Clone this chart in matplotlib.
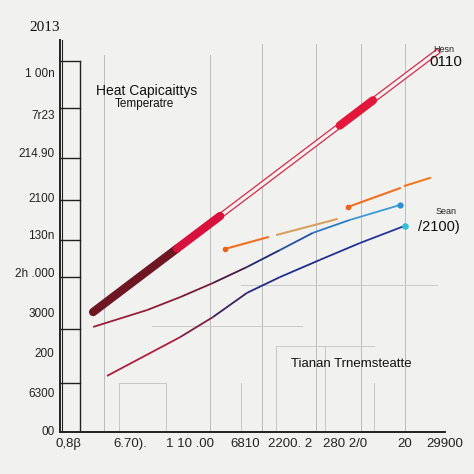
import numpy as np
import matplotlib
matplotlib.use('Agg')
import matplotlib.pyplot as plt
from matplotlib.collections import LineCollection

# data
heat_x = [8.6, 30.4, 41.6, 72.7, 81.3, 97.9]
heat_y = [30.6, 46.8, 55.1, 78.2, 84.6, 96.9]
heat_colors = ['#6e1622', '#d8123c', 'hollow', '#e3173b', 'hollow']

upper_x = [8.6, 22.6, 31.2, 39.7, 48.6, 57.1, 65.7, 75.3, 88.3]
upper_y = [26.8, 31.1, 34.4, 38.0, 42.1, 46.4, 50.8, 54.1, 57.9]
upper_colors = ['#9a1c36', '#8e1b36', '#7a1a38', '#4a1a40', '#1f2a6e', '#2350a8', '#2d78c4', '#3a9ad6']

lower_x = [12.2, 31.2, 39.7, 48.6, 57.1, 67.5, 77.9, 89.6]
lower_y = [14.3, 24.2, 29.3, 35.5, 39.5, 43.9, 48.2, 52.6]
lower_colors = ['#b01e3c', '#7e1e46', '#3a2060', '#22288a', '#1f2c8e', '#22308f', '#24349a']

orange_x = [[42.9, 54.0], [56.4, 71.9], [74.8, 88.3], [89.6, 96.1]]
orange_y = [[46.7, 49.7], [50.3, 54.3], [57.4, 62.2], [62.8, 64.8]]
orange_colors = ['#f07020', '#d8a060', '#f07020', '#f07a22']

ytick_pos = [91.8, 80.9, 71.2, 59.9, 50.5, 40.6, 30.4, 20.4, 10.2, 0.5]
ytick_labels = ['1 00n', '7r23', '214.90', '2100', '130n', '2h .000', '3000', '200', '6300', '00']
box_lines = [94.6, 82.7, 69.9, 59.2, 49.0, 39.5, 26.3, 12.5]

xtick_pos = [2.1, 18.2, 33.8, 48.1, 59.7, 74.0, 89.6, 100.0]
xtick_labels = ['0,8β', '6.70).', '1 10 .00', '6810', '2200. 2', '280 2/0', '20', '29900']

grid_x = [11.4, 39.0, 52.5, 66.5, 78.2, 89.6]
grid_top = [96.2, 96.2, 99.0, 99.0, 99.0, 99.0]
short_x = [15.3, 27.5, 47.0, 56.1, 68.8, 81.6]
short_top = [12.5, 12.5, 12.5, 22.0, 22.0, 12.5]

plt.rcParams['font.family'] = ['Liberation Sans', 'DejaVu Sans']
fig = plt.figure(figsize=(4.74, 4.74), dpi=100)
fig.patch.set_facecolor('#f1f1ef')
ax = fig.add_axes([0.1266, 0.0886, 0.812, 0.827])
ax.set_facecolor('#f1f1ef')
ax.set_xlim(0, 100)
ax.set_ylim(0, 100)

# grid
for gx, gt in zip(grid_x, grid_top):
    ax.plot([gx, gx], [0, gt], color='#bcbcbc', lw=0.7, zorder=1)
for sx, st in zip(short_x, short_top):
    ax.plot([sx, sx], [0, st], color='#c6c6c6', lw=0.7, zorder=1)
ax.plot([15.3, 27.5], [12.5, 12.5], color='#c6c6c6', lw=0.7, zorder=1)
ax.plot([24.0, 63.0], [27.0, 27.0], color='#cacaca', lw=0.7, zorder=1)
ax.plot([47.0, 98.0], [37.5, 37.5], color='#cacaca', lw=0.7, zorder=1)
ax.plot([56.1, 81.6], [22.0, 22.0], color='#cacaca', lw=0.7, zorder=1)

# left box with tick bars
ax.plot([5.2, 5.2], [0, 94.6], color='#222222', lw=1.0, zorder=2)
for by in box_lines:
    ax.plot([0, 5.2], [by, by], color='#222222', lw=1.0, zorder=2)
ax.plot([0.6, 0.6], [0, 100], color='#222222', lw=0.8, zorder=2, clip_on=False)

# thick heat line
for i in range(len(heat_x) - 1):
    xs = heat_x[i:i + 2]
    ys = heat_y[i:i + 2]
    c = heat_colors[i]
    if c == 'hollow':
        ax.plot(xs, ys, color='#d82a48', lw=4.2, zorder=3)
        ax.plot(xs, ys, color='#f6f0f0', lw=2.4, zorder=3)
    else:
        ax.plot(xs, ys, color=c, lw=6, solid_capstyle='round', zorder=4)

# thin gradient lines
for xs, ys, cols in [(upper_x, upper_y, upper_colors), (lower_x, lower_y, lower_colors)]:
    pts = np.column_stack([xs, ys])
    segs = np.stack([pts[:-1], pts[1:]], axis=1)
    ax.add_collection(LineCollection(segs, colors=cols, linewidths=1.3, zorder=3))
ax.scatter([upper_x[-1]], [upper_y[-1]], color='#2a90d8', s=12, zorder=5)
ax.scatter([lower_x[-1]], [lower_y[-1]], color='#30c0d8', s=14, zorder=5)

# orange dashed pieces
for xs, ys, c in zip(orange_x, orange_y, orange_colors):
    ax.plot(xs, ys, color=c, lw=1.5, zorder=3)
ax.scatter([orange_x[0][0], orange_x[2][0]], [orange_y[0][0], orange_y[2][0]],
           color='#f06018', s=9, zorder=5)

# texts
ax.text(22.6, 87.0, 'Heat Capicaittys', fontsize=10, ha='center', va='center', color='#111111')
ax.text(22.0, 83.6, 'Temperatre', fontsize=8.5, ha='center', va='center', color='#111111')
ax.text(75.8, 17.3, 'Tianan Trnemsteatte', fontsize=9.5, ha='center', va='center', color='#111111')
ax.text(99.7, 97.6, 'Hesn', fontsize=6.5, ha='center', va='center', color='#222222', clip_on=False)
ax.text(100.3, 94.3, '0110', fontsize=11, ha='center', va='center', color='#111111', clip_on=False)
ax.text(100.3, 56.2, 'Sean', fontsize=6.5, ha='center', va='center', color='#222222', clip_on=False)
ax.text(98.5, 52.3, '/2100)', fontsize=10.5, ha='center', va='center', color='#111111', clip_on=False)
ax.text(-3.9, 103.2, '2013', fontsize=11, ha='center', va='center', family='Liberation Serif',
        color='#111111', clip_on=False)

ax.set_yticks(ytick_pos)
ax.set_yticklabels(ytick_labels, fontsize=8.5, color='#222222')
ax.set_xticks(xtick_pos)
ax.set_xticklabels(xtick_labels, fontsize=9.5, color='#222222')
ax.tick_params(length=0, pad=4)

ax.spines['top'].set_visible(False)
ax.spines['right'].set_visible(False)
ax.spines['left'].set_linewidth(1.4)
ax.spines['bottom'].set_linewidth(1.4)
ax.spines['left'].set_color('#222222')
ax.spines['bottom'].set_color('#222222')

fig.savefig('out.png', dpi=100, facecolor=fig.get_facecolor())
